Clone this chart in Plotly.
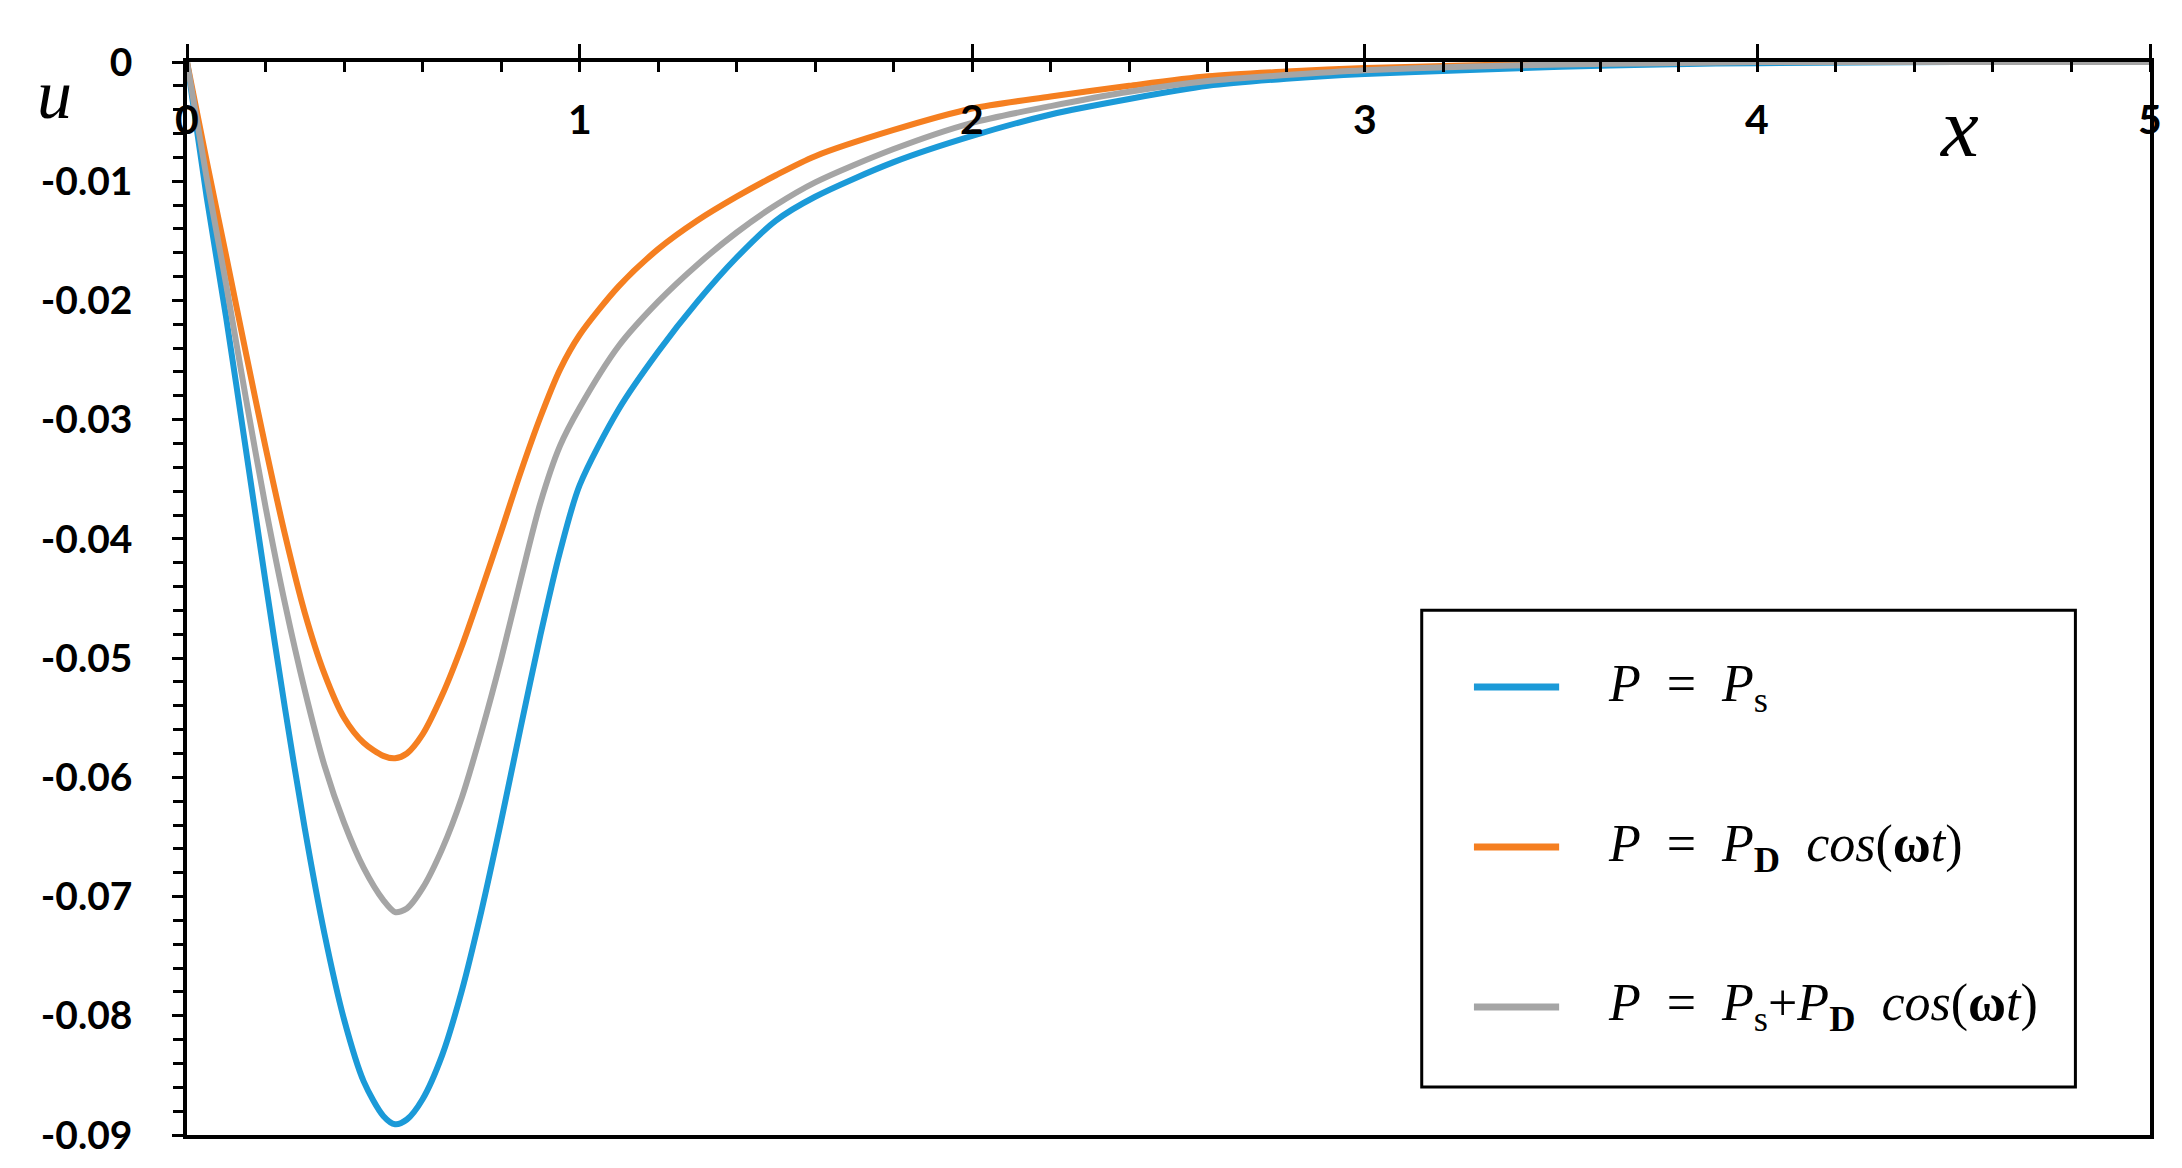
import plotly.graph_objects as go

# displacement u along x for the three load cases
x = [0, 0.05, 0.1, 0.15, 0.2, 0.25, 0.3, 0.35, 0.4, 0.45, 0.5, 0.53, 0.56,
     0.6, 0.65, 0.7, 0.75, 0.8, 0.85, 0.9, 0.95, 1.0, 1.1, 1.2, 1.3, 1.4,
     1.5, 1.6, 1.8, 2.0, 2.2, 2.4, 2.6, 2.8, 3.0, 3.25, 3.5, 3.75, 4.0, 4.5, 5.0]

u_static = [0, -0.0113, -0.0215, -0.0325, -0.0436, -0.0543, -0.0643, -0.0731,
            -0.0803, -0.0855, -0.0884, -0.0891, -0.0887, -0.0870, -0.0833,
            -0.0779, -0.0712, -0.0637, -0.0558, -0.0481, -0.0411, -0.0355,
            -0.0291, -0.0243, -0.0201, -0.0164, -0.0133, -0.0113, -0.0084,
            -0.0062, -0.0044, -0.0031, -0.0020, -0.0014, -0.0010, -0.0007,
            -0.0004, -0.0002, -0.0001, 0, 0]

u_dynamic = [0, -0.0083, -0.0163, -0.0244, -0.0323, -0.0397, -0.0462, -0.0513,
             -0.0550, -0.0571, -0.0582, -0.0584, -0.0580, -0.0564, -0.0531,
             -0.0490, -0.0443, -0.0394, -0.0344, -0.0298, -0.0258, -0.0229,
             -0.0188, -0.0157, -0.0133, -0.0113, -0.0095, -0.0079, -0.0057,
             -0.0039, -0.0029, -0.0020, -0.0012, -0.0008, -0.0005, -0.0003,
             -0.0001, 0, 0, 0, 0]

u_combined = [0, -0.0097, -0.0187, -0.0282, -0.0373, -0.0455, -0.0527, -0.0590,
              -0.0638, -0.0676, -0.0703, -0.0713, -0.0710, -0.0693, -0.0660,
              -0.0617, -0.0562, -0.0501, -0.0434, -0.0370, -0.0322, -0.0290,
              -0.0238, -0.0201, -0.0170, -0.0143, -0.0120, -0.0101, -0.0073,
              -0.0051, -0.0037, -0.0025, -0.0016, -0.0011, -0.0007, -0.0004,
              -0.0002, -0.0001, 0, 0, 0]

labels = [
    "<i>P</i>  =  <i>P</i><sub>s</sub>",
    "<i>P</i>  =  <i>P</i><sub><b>D</b></sub>  <i>cos</i>(<b>ω</b><i>t</i>)",
    "<i>P</i>  =  <i>P</i><sub>s</sub>+<i>P</i><sub><b>D</b></sub>  <i>cos</i>(<b>ω</b><i>t</i>)",
]
colors = ["#1b9ad8", "#f57f20", "#a5a5a5"]

x_tickvals = [0, 1, 2, 3, 4, 5]
x_ticktext = ["0", "1", "2", "3", "4", "5"]
y_tickvals = [0, -0.01, -0.02, -0.03, -0.04, -0.05, -0.06, -0.07, -0.08, -0.09]
y_ticktext = ["0", "-0.01", "-0.02", "-0.03", "-0.04", "-0.05", "-0.06", "-0.07", "-0.08", "-0.09"]

fig = go.Figure()
for ys, name, c in zip([u_static, u_dynamic, u_combined], labels, colors):
    fig.add_trace(go.Scatter(
        x=x, y=ys, mode="lines", name=name, showlegend=False,
        line=dict(color=c, width=6, shape="spline", smoothing=0.8),
    ))

xtick_font = dict(family="Lato", size=41, color="black", weight="bold")
ytick_font = dict(family="Lato", size=39, color="black", weight="bold")

fig.update_xaxes(
    range=[0, 5], side="top", tickvals=x_tickvals, showticklabels=False,
    ticks="outside", ticklen=14, tickwidth=3, tickcolor="black",
    minor=dict(ticks="inside", dtick=0.2, ticklen=10, tickwidth=3, tickcolor="black"),
    showline=True, linewidth=3.5, linecolor="black", mirror=True,
    showgrid=False, zeroline=False,
)
fig.update_yaxes(
    range=[-0.09, 0], tickvals=y_tickvals, ticktext=y_ticktext,
    ticks="outside", ticklen=11, tickwidth=3, tickcolor="black",
    ticklabelstandoff=32,
    minor=dict(ticks="outside", dtick=0.002, ticklen=10, tickwidth=3, tickcolor="black"),
    showline=True, linewidth=3.5, linecolor="black", mirror=True,
    showgrid=False, zeroline=False, tickfont=ytick_font,
)

# x tick labels sit just below the top axis line, inside the frame
for v, t in zip(x_tickvals, x_ticktext):
    fig.add_annotation(x=v, y=1, xref="x", yref="paper", yanchor="top", yshift=-30,
                       showarrow=False, text=t, font=xtick_font)

# axis symbols
fig.add_annotation(x=-0.0775, y=1.007, xref="paper", yref="paper", showarrow=False,
                   text="<i>u</i>", font=dict(family="Liberation Serif", size=70, color="black"))
fig.add_annotation(x=0.914, y=0.985, xref="paper", yref="paper", showarrow=False,
                   text="<i>x</i>", font=dict(family="Liberation Serif", size=85, color="black"))

# legend box drawn by hand so the keys match the original proportions
fig.add_shape(type="rect", xref="paper", yref="paper", x0=0.629, x1=0.962, y0=0.0447, y1=0.489,
              line=dict(color="black", width=3), fillcolor="white", layer="above")
legend_y = [0.4175, 0.2684, 0.1193]
for yy, name, c in zip(legend_y, labels, colors):
    fig.add_shape(type="line", xref="paper", yref="paper", x0=0.6556, x1=0.699, y0=yy, y1=yy,
                  line=dict(color=c, width=7), layer="above")
    fig.add_annotation(x=0.723, y=yy, xref="paper", yref="paper", xanchor="left", yanchor="middle",
                       showarrow=False, text=name,
                       font=dict(family="Liberation Serif", size=52, color="black"))

fig.update_layout(
    width=2182, height=1168,
    margin=dict(l=179, r=40, t=54, b=41),
    plot_bgcolor="white", paper_bgcolor="white",
)

fig.write_html("out.html")
